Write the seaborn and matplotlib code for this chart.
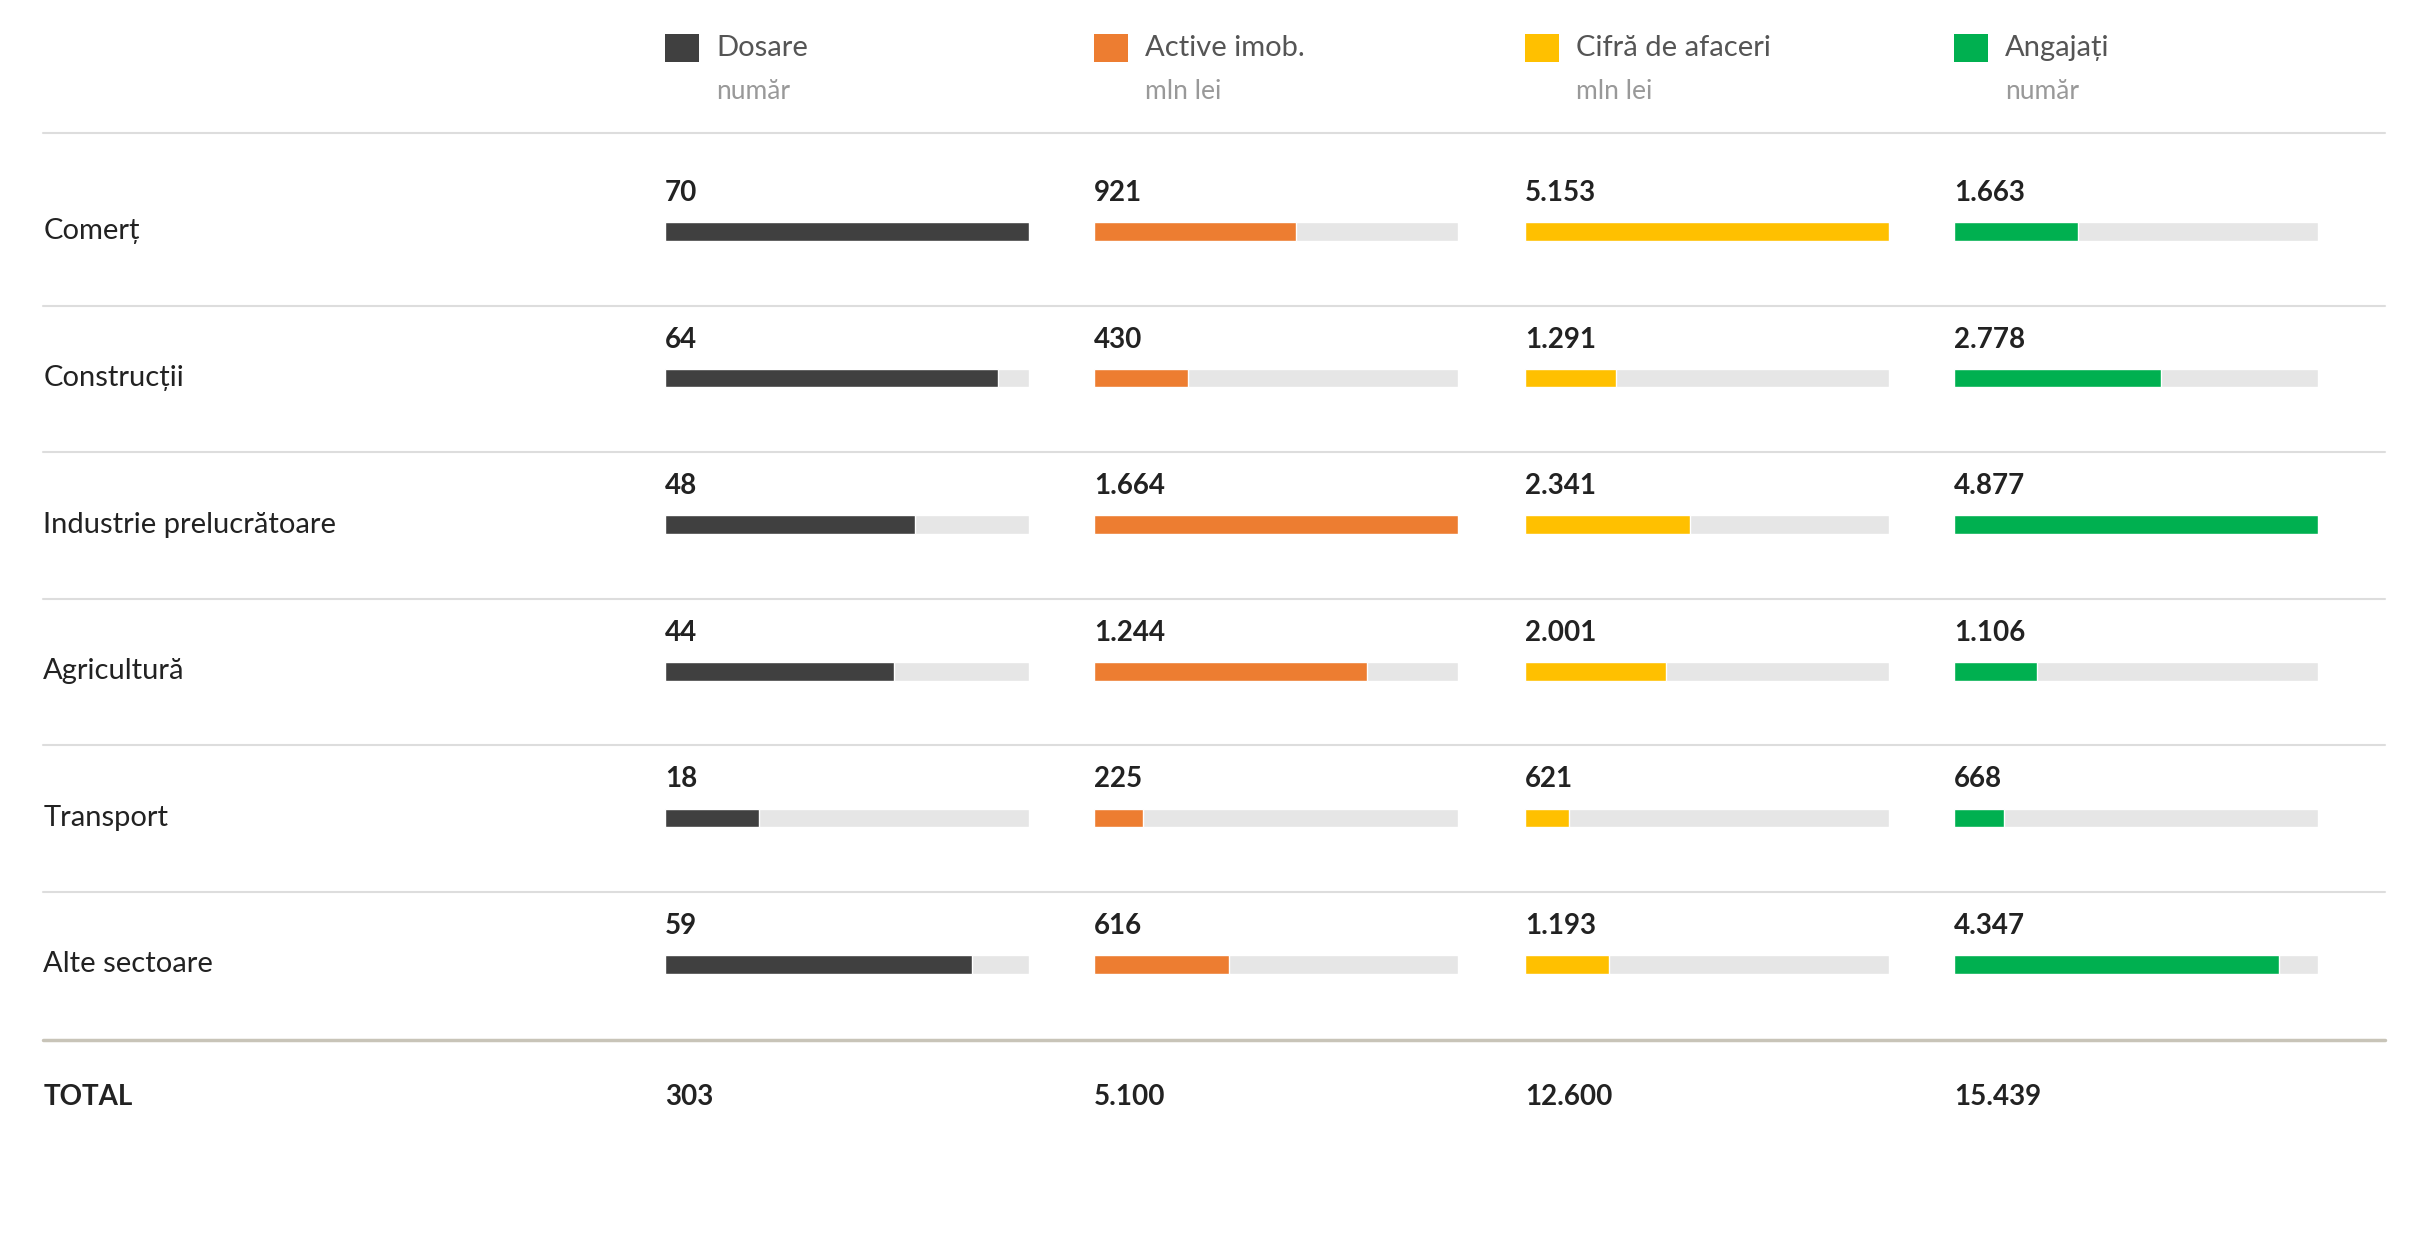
import matplotlib
matplotlib.use("Agg")
import matplotlib.pyplot as plt
import seaborn as sns

sns.set_theme(style="white")
plt.rcParams['font.family'] = ['Lato', 'DejaVu Sans']

categories = ["Comerț", "Construcții", "Industrie prelucrătoare", "Agricultură", "Transport", "Alte sectoare"]
series_names = ["Dosare", "Active imob.", "Cifră de afaceri", "Angajați"]
series_units = ["număr", "mln lei", "mln lei", "număr"]
dosare = [70, 64, 48, 44, 18, 59]
active = [921, 430, 1664, 1244, 225, 616]
cifra = [5153, 1291, 2341, 2001, 621, 1193]
angajati = [1663, 2778, 4877, 1106, 668, 4347]
totals = [303, 5100, 12600, 15439]
colors = ["#404040", "#ED7D31", "#FFC000", "#00B050"]

W, H = 1568, 812.6
fig = plt.figure(figsize=(24.2, 12.54), dpi=100)
ov = fig.add_axes([0, 0, 1, 1])
ov.set_xlim(0, W); ov.set_ylim(H, 0); ov.axis("off")

def fmt(v):
    return f"{v:,}".replace(",", ".")

col_x = [431, 709, 988, 1266]
col_w = 236
row_c = [150, 245, 340, 435, 530, 625]
step = 95
top = row_c[0] - step / 2
bot = row_c[-1] + step / 2

for i, (name, unit, col) in enumerate(zip(series_names, series_units, colors)):
    x0 = col_x[i]
    ov.add_patch(plt.Rectangle((x0, 22), 22, 18, color=col, lw=0))
    ov.text(x0 + 33, 31, name, fontsize=21, color="#555555", va="center")
    ov.text(x0 + 33, 59, unit, fontsize=19, color="#999999", va="center")
    ov.text(x0, 711, fmt(totals[i]), fontsize=20, fontweight="bold", color="#222222", va="center")

for y in [86, 198, 293, 388, 483, 578]:
    ov.plot([28, 1545], [y, y], color="#dddddd", lw=1.5)
ov.plot([28, 1545], [674, 674], color="#c8c4b8", lw=2.5)

for c, y in zip(categories, row_c):
    ov.text(28, y, c, fontsize=21, color="#222222", va="center")
ov.text(28, 711, "TOTAL", fontsize=20, fontweight="bold", color="#222222", va="center")

for i, vals in enumerate([dosare, active, cifra, angajati]):
    ax = fig.add_axes([col_x[i] / W, 1 - bot / H, col_w / W, (bot - top) / H])
    mx = max(vals)
    sns.barplot(x=[mx] * len(vals), y=categories, order=categories, orient="h",
                color="#E6E6E6", width=12 / step, ax=ax, saturation=1)
    sns.barplot(x=vals, y=categories, order=categories, orient="h",
                color=colors[i], width=12 / step, ax=ax, saturation=1)
    ax.set_xlim(0, mx)
    ax.set_ylim(len(vals) - 0.5, -0.5)
    for j, v in enumerate(vals):
        ax.text(0, j - 25 / step, fmt(v), fontsize=20, fontweight="bold",
                color="#222222", va="center", ha="left")
    ax.axis("off")
    ax.patch.set_alpha(0)

fig.savefig("out.png", dpi=100)
